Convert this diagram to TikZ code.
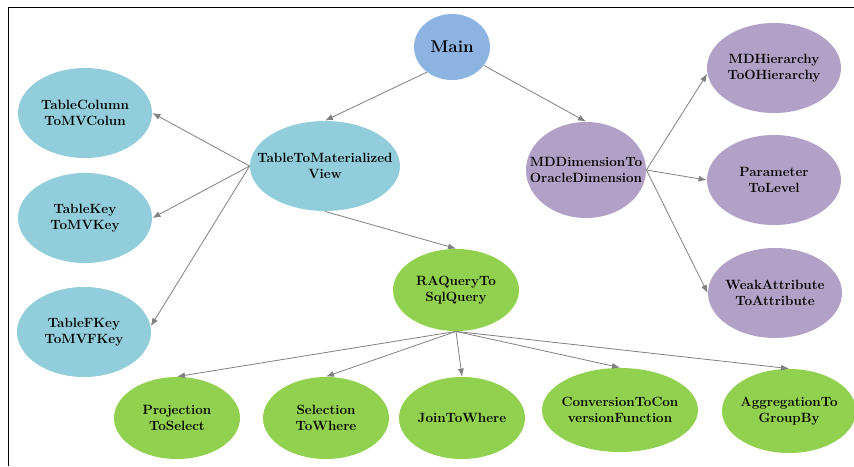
\documentclass[tikz,border=0pt]{standalone}
\usepackage{tikz}
\usetikzlibrary{arrows.meta}
\usetikzlibrary{shapes.geometric}

\definecolor{mainblue}{HTML}{8DB3E2}
\definecolor{tblblue}{HTML}{92CDDC}
\definecolor{dimpurple}{HTML}{B2A1C7}
\definecolor{qrygreen}{HTML}{92D050}
\definecolor{edgegray}{HTML}{808080}

\begin{document}
\begin{tikzpicture}[x=1pt,y=-1pt,->,>={Latex[length=8pt,width=6pt]},thick,
  every edge/.append style={draw=edgegray},
  main node/.style={ellipse,inner ysep=0pt,inner xsep=-30pt,align=center,
    font=\bfseries\fontsize{13.4}{16}\selectfont,
    minimum width=134pt,minimum height=90pt},
  table node/.style={main node,fill=tblblue},
  dim node/.style={main node,fill=dimpurple},
  query node/.style={main node,fill=qrygreen,minimum width=126pt,minimum height=82pt}]

  \useasboundingbox (0,0) rectangle (854,466);
  \draw[-,black,line width=0.8pt] (8,466) -- (8,7) -- (854,7);

  \node[main node,fill=mainblue,minimum width=76pt,minimum height=66pt,
    font=\bfseries\fontsize{17}{19}\selectfont] (1) at (452,47) {Main};
  \node[table node,minimum width=150pt] (2) at (325,166) {TableToMaterialized\\View};
  \node[dim node,minimum width=120pt,minimum height=96pt] (3) at (586,170) {MDDimensionTo\\OracleDimension};

  \node[table node] (4) at (85,113) {TableColumn\\ToMVColun};
  \node[table node] (5) at (85,218) {TableKey\\ToMVKey};
  \node[table node] (6) at (84,332) {TableFKey\\ToMVFKey};

  \node[dim node] (7) at (774,68) {MDHierarchy\\ToOHierarchy};
  \node[dim node] (8) at (774,180) {Parameter\\ToLevel};
  \node[dim node] (9) at (775,293) {WeakAttribute\\ToAttribute};

  \node[query node] (10) at (456,290) {RAQueryTo\\SqlQuery};
  \node[query node] (11) at (177,418) {Projection\\ToSelect};
  \node[query node] (12) at (326,418) {Selection\\ToWhere};
  \node[query node] (13) at (462,418) {JoinToWhere};
  \node[query node,minimum width=156pt,minimum height=84pt] (14) at (620,410) {ConversionToCon\\versionFunction};
  \node[query node,minimum width=134pt,minimum height=84pt] (15) at (789,411) {AggregationTo\\GroupBy};

  \path
    (1.225) edge (2.north)
    (1.330) edge (3.north)
    (2.west) edge (4.east)
    (2.west) edge (5.east)
    (2.west) edge (6.5)
    (2.south) edge (10.north)
    (3.east) edge (7.185)
    (3.east) edge (8.west)
    (3.east) edge (9.west)
    (10.south) edge (11.north)
    (10.south) edge (12.north)
    (10.south) edge (13.north)
    (10.south) edge (14.north)
    (10.south) edge (15.north);
\end{tikzpicture}
\end{document}
